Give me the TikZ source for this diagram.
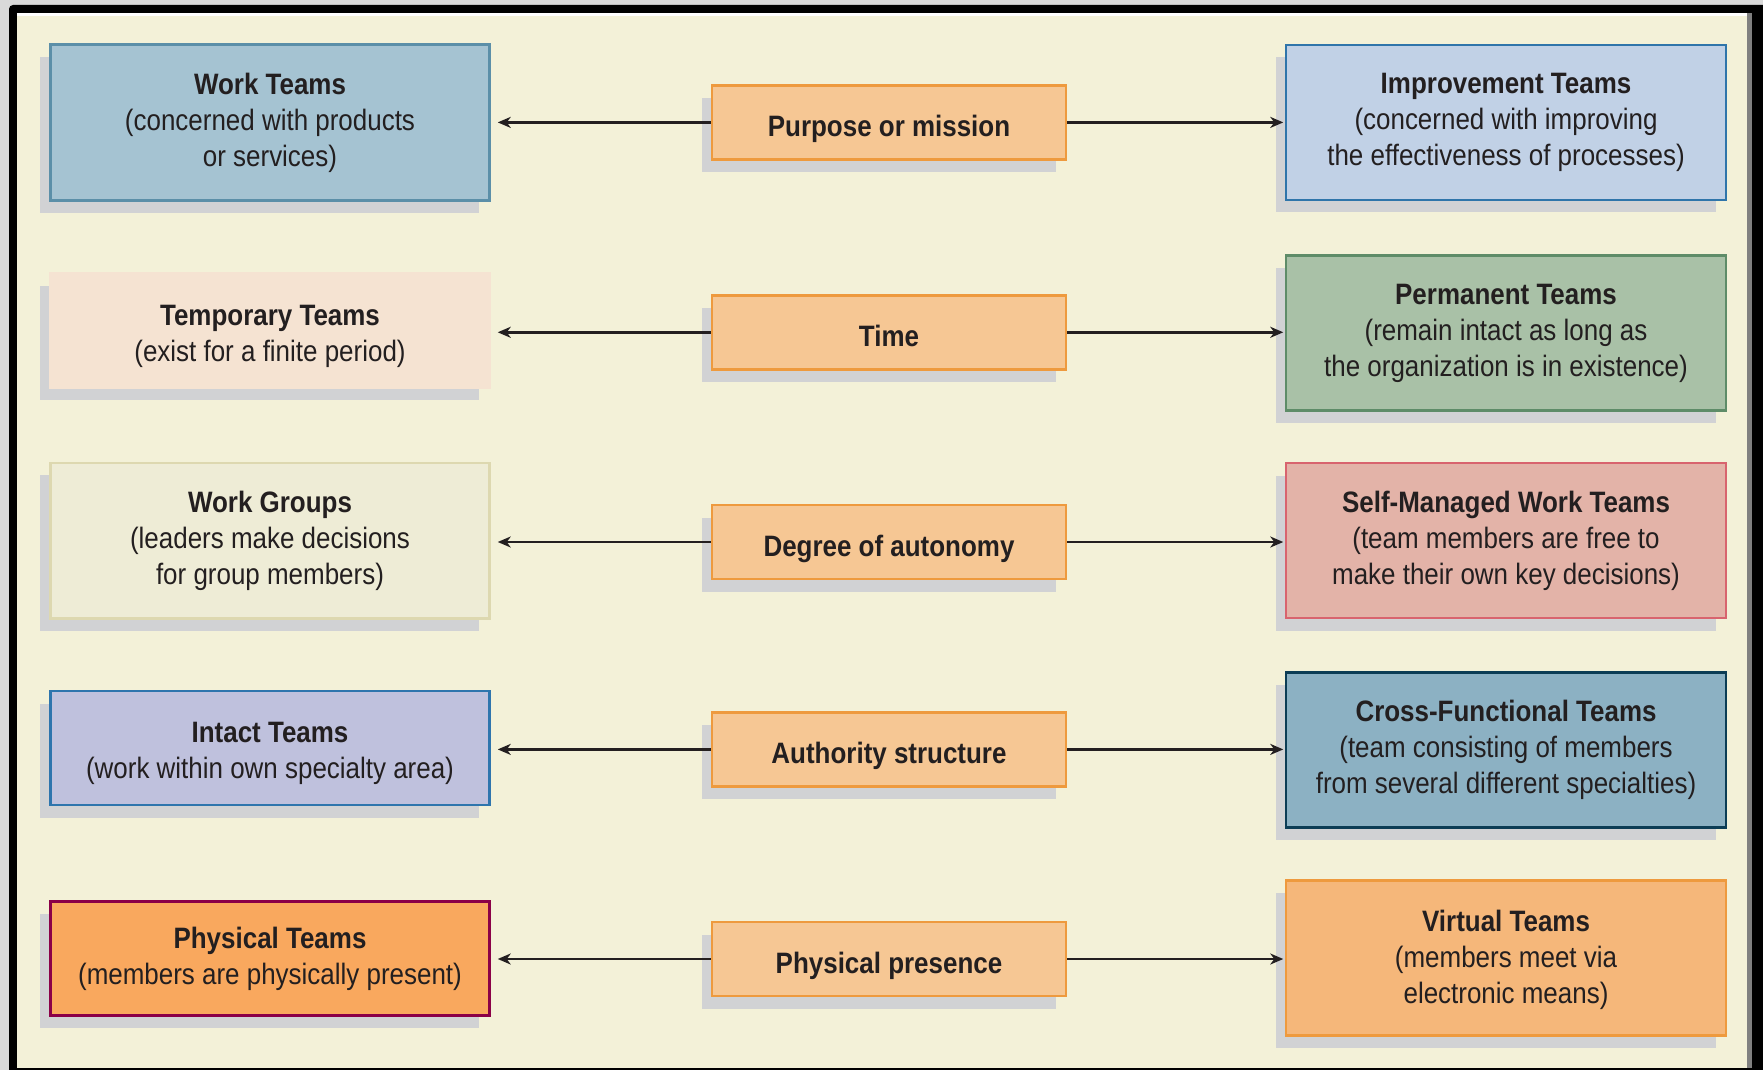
\documentclass[tikz,border=0pt]{standalone}
\usepackage{fontspec}
\setmainfont{Liberation Sans}[FakeStretch=0.88]
\usetikzlibrary{arrows.meta,shadows}

% palette
\definecolor{margingrey}{HTML}{D9D9D9}
\definecolor{rimgrey}{HTML}{808080}
\definecolor{cream}{HTML}{F3F1D8}
\definecolor{shadowc}{HTML}{D1D2D4}
\definecolor{textc}{HTML}{231F20}
\definecolor{midfill}{HTML}{F6C794}
\definecolor{midline}{HTML}{EE9A3E}
\definecolor{workfill}{HTML}{A5C3D2}
\definecolor{workline}{HTML}{5B8FA8}
\definecolor{tempfill}{HTML}{F5E3D2}
\definecolor{groupfill}{HTML}{EEECD6}
\definecolor{groupline}{HTML}{DDD8B0}
\definecolor{intactfill}{HTML}{BFC1DD}
\definecolor{intactline}{HTML}{2E75AD}
\definecolor{physfill}{HTML}{F9A85E}
\definecolor{physline}{HTML}{8B0047}
\definecolor{imprfill}{HTML}{C1D1E6}
\definecolor{imprline}{HTML}{2F75AA}
\definecolor{permfill}{HTML}{A9C1A7}
\definecolor{permline}{HTML}{5E8C68}
\definecolor{selffill}{HTML}{E3B3A8}
\definecolor{selfline}{HTML}{D8646E}
\definecolor{crossfill}{HTML}{8CB1C3}
\definecolor{crossline}{HTML}{0C3D55}
\definecolor{virtfill}{HTML}{F5B77A}

% taller first line, pushes a text block slightly down inside its box
\newcommand{\lowstrut}[1]{\rule{0pt}{#1}}

\tikzset{
  box/.style={draw, line width=2.5pt, align=center, inner sep=0pt, text=textc,
    font=\fontsize{29.5pt}{36pt}\selectfont,
    drop shadow={shadow xshift=-10.5pt, shadow yshift=-12.5pt, fill=shadowc, opacity=1}},
  leftbox/.style={box, minimum width=439pt},
  rightbox/.style={box, minimum width=440pt, minimum height=155pt},
  midbox/.style={box, minimum width=354pt, minimum height=74pt, fill=midfill, draw=midline,
    text height=40pt, text depth=12pt,
    font=\fontsize{29.5pt}{36pt}\selectfont\bfseries},
  conn/.style={line width=2.8pt, draw=textc,
    -{Stealth[length=13pt, width=11pt, inset=4pt]}},
  toleft/.style={conn, shorten >=7pt},
  toright/.style={conn, shorten >=1.5pt}
}

\begin{document}
\begin{tikzpicture}[x=1pt, y=-1pt]
\useasboundingbox (0,0) rectangle (1763,1070);
\clip (0,0) rectangle (1763,1070);

% frame
\fill[margingrey] (0,0) rectangle (1763,1070);
\fill[black] (9,1070) [rounded corners=4pt] -- (9,5) [sharp corners] -- (1763,5) -- (1763,1070) -- cycle;
\fill[white] (16.7,13.3) rectangle (1747,16);
\fill[rimgrey] (1747,13.3) rectangle (1751.7,1068);
\fill[cream] (16.7,16) rectangle (1747,1068);

% left column
\node[leftbox, minimum height=155.5pt, fill=workfill, draw=workline] (l1) at (270,122.5)
  {\textbf{Work Teams}\\(concerned with products\\or services)};
\node[leftbox, minimum height=114pt, fill=tempfill, draw=tempfill] (l2) at (270,330.5)
  {\lowstrut{33pt}\textbf{Temporary Teams}\\(exist for a finite period)};
\node[leftbox, minimum height=155.5pt, fill=groupfill, draw=groupline] (l3) at (270,540.7)
  {\textbf{Work Groups}\\(leaders make decisions\\for group members)};
\node[leftbox, minimum height=114pt, fill=intactfill, draw=intactline] (l4) at (270,748)
  {\lowstrut{32pt}\textbf{Intact Teams}\\(work within own specialty area)};
\node[leftbox, minimum height=114pt, fill=physfill, draw=physline] (l5) at (270,958.5)
  {\textbf{Physical Teams}\\(members are physically present)};

% middle column
\node[midbox] (m1) at (889,122.4) {Purpose or mission};
\node[midbox] (m2) at (889,332.3) {Time};
\node[midbox] (m3) at (889,542) {Degree of autonomy};
\node[midbox] (m4) at (889,749.4) {Authority structure};
\node[midbox] (m5) at (889,959) {Physical presence};

% right column
\node[rightbox, fill=imprfill, draw=imprline] (r1) at (1506,122.3)
  {\textbf{Improvement Teams}\\(concerned with improving\\the effectiveness of processes)};
\node[rightbox, fill=permfill, draw=permline] (r2) at (1506,333)
  {\textbf{Permanent Teams}\\(remain intact as long as\\the organization is in existence)};
\node[rightbox, fill=selffill, draw=selfline] (r3) at (1506,540.7)
  {\textbf{Self-Managed Work Teams}\\(team members are free to\\make their own key decisions)};
\node[rightbox, fill=crossfill, draw=crossline] (r4) at (1506,750)
  {\textbf{Cross-Functional Teams}\\(team consisting of members\\from several different specialties)};
\node[rightbox, fill=virtfill, draw=midline] (r5) at (1506,957.8)
  {\lowstrut{25pt}\textbf{Virtual Teams}\\(members meet via\\electronic means)};

% connectors
\foreach \i in {1,...,5} {
  \draw[toleft] (m\i.west) -- (m\i.west -| l\i.east);
  \draw[toright] (m\i.east) -- (m\i.east -| r\i.west);
}
\end{tikzpicture}
\end{document}
